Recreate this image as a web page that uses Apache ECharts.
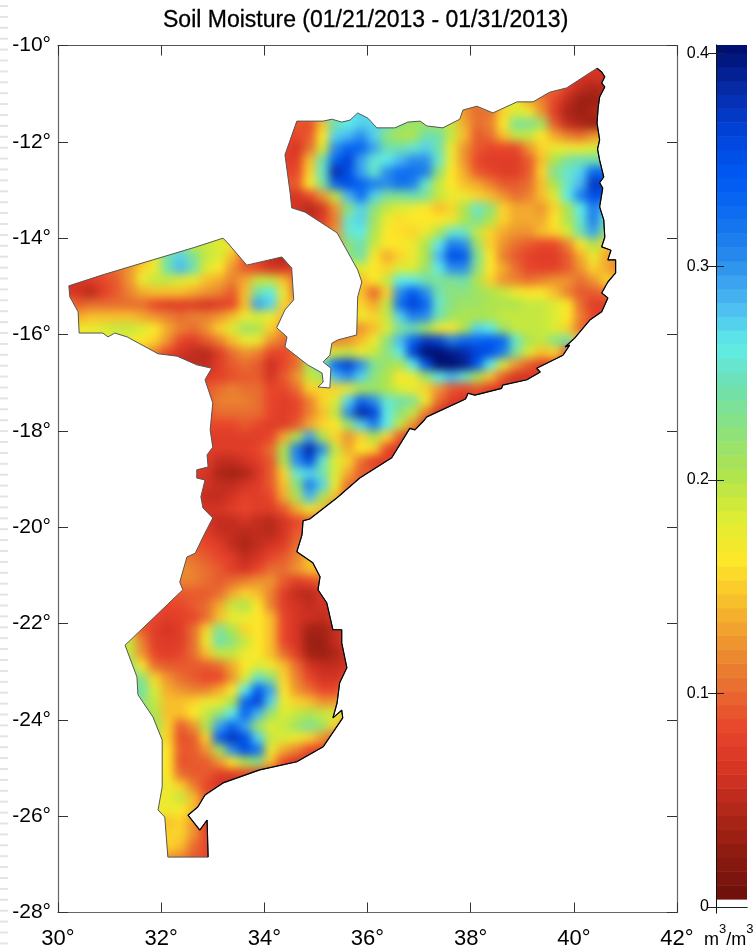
<!DOCTYPE html>
<html><head><meta charset="utf-8">
<style>
html,body{margin:0;padding:0;background:#fff;overflow:hidden}
#field,#frame{position:absolute;left:0;top:0;width:753px;height:950px}
#field{filter:blur(5px)}
</style>
<script src="https://cdn.jsdelivr.net/npm/echarts@6/dist/echarts.min.js"></script>
</head><body>
<div id="field"></div><div id="frame"></div>
<script>
const _ = null;
const chartTitle = 'Soil Moisture (01/21/2013 - 01/31/2013)';
const lonTicks = [30,32,34,36,38,40,42];
const latTicks = [-28,-26,-24,-22,-20,-18,-16,-14,-12,-10];
const colorbarTicks = [0,0.1,0.2,0.3,0.4];
const cellDegrees = 0.25;
// colour ramp, one stop per 0.02 m3/m3 from 0 to 0.40
const moistureColors = ['#6c0f0b','#8a1a10','#ad2617','#d53424','#e8452b','#e86e30','#ee9430','#f8bf2c','#fde829','#dcec34','#aee44e','#8de27c','#70e0ae','#5fece8','#4ab8f2','#2a8cec','#0e6ef0','#0058f2','#0042d8','#062aa6','#001070'];

// soil moisture in 0.01 m3/m3, one row per 0.25 deg of latitude going south from -10.375
const startNorth = [40,39,38,36,21,17,17,17,17,17,17,17,18,18,20];
const moistureNorth = [
[5,6,6],
[7,6,6,6],
[10,7,5,4,5],
[13,11,8,5,3,3,4],
[26,26,27,26,24,23,22,22,20,17,12,10,10,15,18,17,12,7,4,3,4,5],
[8,9,8,14,24,26,27,27,25,22,21,21,21,19,13,10,11,16,23,23,21,9,5,4,3,3],
[8,8,9,16,27,28,30,27,22,20,20,24,24,19,14,9,10,14,19,19,16,13,11,10,12,13],
[8,6,10,18,30,33,33,29,24,24,25,27,24,17,12,9,8,8,8,12,15,17,17,17,18,19],
[7,7,14,24,33,36,29,25,26,28,30,30,25,17,12,8,7,7,7,9,14,20,23,24,24,24],
[8,8,15,25,38,35,29,25,30,32,32,31,22,16,13,9,8,7,7,9,15,23,25,27,33,32],
[9,9,16,23,33,35,33,31,30,32,31,25,19,16,14,13,11,9,9,10,14,20,25,28,37,36],
[7,6,8,12,19,28,32,27,23,23,24,23,19,17,17,15,14,12,10,11,14,18,26,31,35,34],
[6,4.5,6,12,22,27,22,19,18,17,16,14,15,20,25,22,15,13,13,12,15,20,26,31,28],
[6,5,7,11,25,27,21,17,15.5,16,16,16,17,20,23,20,15,13,13,13,16,20,25,31,25],
[9,12,25,26,20,16,15.5,15,17,20,25,25,19,15,13,12,12,14,15,18,24,29,22]
];
const startTete = [8,5,1,0,0,1,1,1,4,6,8,10,10,11,11,11];
const moistureTete = [
[20,22,19,19,18,17,11,_,_,_,_,_,_,12,22,24,19,16,16,17,20,26,31,30,21,15,12,10,9,8,8,11,16,20,15,12],
[10,13,17,24,27,23,19,18,14,9,7,5,4,4,_,_,_,22,24,16,13,15,17,20,28,35,34,23,16,11,9,7.5,7,7,9,13,17,13,11],
[7,7,9,10,12,15,17,24,28,24,18,16,12,9,8,6,6,8,_,_,_,18,18,16,15,18,18,21,26,30,30,22,16,13,10,8,7.5,7.5,9,12,15,13,11],
[7,6,7,8,9,12,17,19,19,18,17,14,13,11,13,19,19,14,10,_,_,_,14,14,16,19,26,26,24,23,23,24,20,15,12,11,10,11,12,12,10,12,15,14],
[6,6,4.5,7,9,11,13,14,14,14,13,12,11,9,14,24,26,17,10,_,_,_,15,14,9.5,15,30,34,30,24,22,22,21,20,19,17,16,16,14,11,9,9,10],
[9,10,10,10,10,10,8,7,7,7,6,7,8,14,29,27,15,13,_,_,_,15,15,13,19,32,36,33,25,22,21,21,20,20,20,19,19,18,16,10,7,7],
[13,14,14,14,14,13,12,11,10,11,11,12,14,17,18,17,14,11,_,_,_,15,17,15,19,27,31,30,24,21,20,20,20,19,19,19,19,18,16,11,8,7],
[17,17,18,19,19,18,16,13,11,10,12,15,18,21,20,15,12,10,_,_,_,11,12,14,18,23,24,21,17,16,20,27,26,21,19,19,19,18,15,10,8],
[17,17,16,15,12,8,7,9,11,14,17,17,12,10,9,_,12,11,12,14,17,22,28,33,37,36,31,33,33,34,33,25,20,19,22,24,15],
[13,11,8,6,5,4.5,7,10,12,11,8,8,10,16,17,18,19,17,19,22,26,36,40,40,39,38,36,35,31,23,18,14,15,9],
[6,5,5,5,7,9,10,9,5.5,8,10,20,25,33,36,30,23,21,20,26,34,40,40,39,34,26,18,12,9,7],
[7,7,7.5,8.5,9,9,6,9,12,19,20,28,30,27,22,20,16,17,21,26,28,25,20,14,9,6,6],
[9,9,10,11,10,10,8,8,10,15,15,15,17,20,21,20,18,17,15,12,9,8,9,7,6,6],
[9,11,11,11,10,8,7,8,11,15,18,27,33,30,25,24,23,17,10,7,6,6],
[9,10,10,10,10,8,7,8,11,14,19,30,38,36,26,22,19,11,6,5],
[8,8,8,9,8,7,7,9,13,15,16,21,27,31,26,19,12,6,5]
];
const startSofala = [11,11,11,10,10,10,11,11,10,9,8,8,8,7,6,5];
const moistureSofala = [
[7,7,7,7,7,8,13,20,29,20,15,12,15,20,15,9,6],
[7,7,7,7,8,10,20,31,38,30,19,13,16,15,8,6],
[7,5,5,6,7,9,20,30,35,25,18,15,10,7],
[7,6,4,3.5,4,6,9,15,25,27,24,18,13,9],
[6,6,5,5,6,7,9,14,22,31,27,17,10],
[7,5,5,6,7.5,7,8,13,20,28,20,14,9],
[6,6,7,8,7,7,9,13,17,14,10],
[6,5,5,6,5,4.5,6,8,9],
[7,7,5.5,5,4.5,5,4.5,6,9,10],
[10,9,8,7,5,4,5,6,7,10,11],
[11,11,10,9,8,7,5,6,8,9,11,14],
[11,12,11,10,9,7,6,8,10,10,12,14,14],
[11,11,11,10,9,10,11,12,12,9,7,8,9],
[9,9,9,9,9,10,13,15,14,11,7,5,4.5,6],
[8,8,8,8,9,10,13,19,20,16,11,7,6,5,6],
[10,9,8,7,7.5,8,10,14,17,17,16,14,8,6,5.5,5]
];
const startGaza = [5,4,4,5,5,6,6,7,7,7,7,7,7,7,7,7,8,8,8,8];
const moistureGaza = [
[14,9,7,6,7,10,15,23,20,15,16,14,8,6,3.5,3.5,5,7],
[19,19,11,7,7,7,10,17,24,22,19,16,14,8,6,3,3,5,7],
[21,19,12,8,7,8,10,14,19,19,17,16,14,10,7,3.5,3,4,6],
[22,16,10,9,9,9,9,10,13,16,18,17,14,10,6,5,5,6],
[23,22,15,12,10,9,8,8,12,18,25,22,15,11,8,6,6],
[24,18,13,12,11,11,13,16,26,34,29,16,12,10,8,8],
[22,19,14,14,15,17,17,20,33,36,27,17,15,14,12,12],
[20,14,14,16,19,22,26,33,28,21,18,19,20,19,18],
[21,15,9,12,20,29,33,29,21,18,19,21,23,21,15],
[19,15,8.5,9,15,34,37,35,27,19,18,17,15,12,9],
[18,16,9,9,12,20,30,35,32,17,13,11,8,7],
[18,16,8.5,9,9,12,16,20,22,14,8,6],
[18,16,10,9,9,7,7,8,7,6],
[18,17,15,11,8,6,5],
[17,17,19,14,9],
[17,17,16,14,9],
[14,15,12,7],
[15,15,12,8],
[15,14,10,8],
[12,11,9,8]
];
// country outline, clockwise from the north-west corner of Niassa, [lon, lat]
const outlineNorth = [[34.63,-11.57],[35.14,-11.57],[35.31,-11.53],[35.50,-11.59],[35.66,-11.55],[35.81,-11.40],[36.01,-11.51],[36.18,-11.71],[36.53,-11.71],[36.78,-11.59],[37.02,-11.57],[37.15,-11.67],[37.46,-11.71],[37.79,-11.53],[37.85,-11.34],[38.12,-11.26],[38.43,-11.40],[38.90,-11.17],[39.21,-11.17],[39.53,-10.97],[39.86,-10.88],[40.45,-10.47]];
const outlineEastCoast = [[40.45,-10.47],[40.54,-10.55],[40.60,-10.65],[40.54,-10.78],[40.60,-10.86],[40.50,-11.07],[40.47,-11.30],[40.45,-11.61],[40.50,-11.96],[40.46,-12.15],[40.50,-12.38],[40.58,-12.73],[40.50,-12.85],[40.56,-12.96],[40.50,-13.35],[40.58,-13.62],[40.60,-13.98],[40.54,-14.18],[40.72,-14.25],[40.66,-14.45],[40.81,-14.45],[40.81,-14.72],[40.66,-14.91],[40.54,-15.14],[40.66,-15.24],[40.54,-15.53],[40.31,-15.70],[40.02,-16.07],[39.83,-16.26],[39.92,-16.22],[39.79,-16.43],[39.28,-16.70],[39.35,-16.78],[39.09,-16.94],[38.62,-17.05],[38.60,-17.12],[38.08,-17.26],[37.95,-17.22],[37.90,-17.34],[37.15,-17.71],[37.10,-17.78],[36.92,-17.98],[36.82,-17.95],[36.47,-18.56],[35.85,-18.98],[35.41,-19.39],[34.88,-19.83],[34.75,-19.87],[34.73,-20.16],[34.63,-20.51],[34.94,-20.74],[35.08,-21.03],[35.04,-21.30],[35.21,-21.57],[35.33,-22.13],[35.50,-22.13],[35.50,-22.40],[35.60,-22.92],[35.46,-23.23],[35.41,-23.65],[35.33,-23.96],[35.50,-23.80],[35.52,-23.96],[35.14,-24.56],[34.63,-24.87],[33.91,-25.04],[33.20,-25.31],[32.85,-25.56],[32.71,-25.81],[32.52,-25.98],[32.75,-26.29],[32.89,-26.08],[32.91,-26.85]];
const outlineWest = [[32.13,-26.85],[32.07,-26.02],[31.94,-25.87],[32.02,-25.39],[32.02,-24.42],[31.84,-23.94],[31.55,-23.48],[31.53,-23.11],[31.30,-22.45],[32.42,-21.30],[32.36,-21.14],[32.50,-20.62],[32.66,-20.54],[32.85,-20.12],[33.00,-19.81],[32.81,-19.60],[32.77,-19.37],[32.85,-19.02],[32.69,-18.98],[32.69,-18.81],[32.91,-18.75],[32.89,-18.50],[33.00,-18.34],[32.95,-17.98],[33.00,-17.42],[32.85,-16.94],[32.98,-16.70],[32.69,-16.63],[32.31,-16.45],[31.94,-16.40],[31.34,-16.05],[31.10,-15.97],[30.97,-16.05],[30.87,-15.97],[30.41,-15.97],[30.39,-15.53],[30.23,-15.22],[30.21,-14.99]];
const outlineTeteNorth = [[30.87,-14.76],[31.84,-14.45],[32.62,-14.20],[33.20,-14.00],[33.29,-14.10],[33.66,-14.56],[34.34,-14.39],[34.53,-14.62],[34.57,-15.28],[34.40,-15.49],[34.24,-15.86],[34.44,-16.05],[34.40,-16.26],[34.84,-16.63],[35.12,-16.80],[35.14,-16.99],[35.04,-17.09],[35.27,-17.11],[35.29,-16.70],[35.14,-16.57],[35.27,-16.43],[35.31,-16.18],[35.43,-16.11],[35.79,-16.01],[35.81,-15.22],[35.89,-14.91],[35.81,-14.66],[35.41,-13.89],[34.79,-13.46],[34.53,-13.37],[34.50,-13.06],[34.40,-12.27]];
const outline = outlineNorth.concat(outlineEastCoast.slice(1), outlineWest, outlineTeteNorth);

const rowStarts = startNorth.concat(startTete, startSofala, startGaza);
const rows = moistureNorth.concat(moistureTete, moistureSofala, moistureGaza);
const cells = [];
rows.forEach((row, r) => row.forEach((v, i) => {
  if (v === null) return;
  cells.push([30 + (rowStarts[r] + i + 0.5) * cellDegrees, -10 - (r + 1.5) * cellDegrees, v / 100]);
}));

const plotGrid = {left: 58, top: 45.5, width: 619, height: 867};
const colorMap = {type: 'continuous', show: false, min: 0, max: 0.4, dimension: 2, inRange: {color: moistureColors}};

function cellRender(scale) {
  return function (params, api) {
    const half = cellDegrees / 2 * scale;
    const a = api.coord([api.value(0) - half, api.value(1) + half]);
    const b = api.coord([api.value(0) + half, api.value(1) - half]);
    return {type: 'rect', shape: {x: a[0], y: a[1], width: b[0] - a[0] + 0.6, height: b[1] - a[1] + 0.6},
      style: {fill: api.visual('color')}};
  };
}
const field = echarts.init(document.getElementById('field'), null, {renderer: 'canvas'});
field.setOption({
  animation: false, backgroundColor: '#fff',
  grid: plotGrid,
  xAxis: {type: 'value', min: 30, max: 42, show: false},
  yAxis: {type: 'value', min: -28, max: -10, show: false},
  visualMap: colorMap,
  series: [
    {type: 'custom', name: 'edge', data: cells, z: 1, clip: true, renderItem: cellRender(3), encode: {x: 0, y: 1}, silent: true},
    {type: 'custom', name: 'Soil moisture', data: cells, z: 2, clip: true, renderItem: cellRender(1), encode: {x: 0, y: 1}, silent: true}
  ]
});

// colour bar bands
const barTop = 0.4038, barFloor = 0.0036, barBand = 0.0065, barLevels = [];
for (let v = barFloor; v < barTop; v += barBand) barLevels.push([0, v, Math.min(v + barBand, barTop)]);

const axisCommon = {type: 'value', splitLine: {show: false}, z: 5};
const tickStyle = {inside: true, length: 10, lineStyle: {color: '#333', width: 1}};
const labelFont = 'Liberation Sans';
const dashes = [];
for (let y = 5; y < 950; y += 10.9) dashes.push({type: 'rect', shape: {x: 0, y: y, width: 8, height: 2}, style: {fill: '#e4e4e4'}, silent: true});

const frame = echarts.init(document.getElementById('frame'), null, {renderer: 'canvas'});
frame.setOption({
  animation: false,
  title: {text: chartTitle, left: 158, top: 4, textStyle: {fontFamily: labelFont, fontSize: 23, fontWeight: 'normal', color: '#000', textBorderColor: '#000', textBorderWidth: 0.3}},
  grid: [plotGrid, {left: 716, top: 45, width: 31, height: 868}],
  xAxis: [
    Object.assign({}, axisCommon, {gridIndex: 0, position: 'bottom', min: 30, max: 42, interval: 2, axisLine: {show: true, lineStyle: {color: '#666', width: 1.2}}, axisTick: tickStyle,
      axisLabel: {margin: 15, fontFamily: labelFont, fontSize: 22, color: '#000', formatter: v => v + '°', customValues: lonTicks}}),
    Object.assign({}, axisCommon, {gridIndex: 0, position: 'top', min: 30, max: 42, interval: 2, axisLine: {show: true, lineStyle: {color: '#555', width: 1.2}}, axisTick: tickStyle, axisLabel: {show: false}}),
    Object.assign({}, axisCommon, {gridIndex: 1, position: 'bottom', min: 0, max: 1, axisLine: {show: true, lineStyle: {color: '#222'}}, axisTick: {show: false}, axisLabel: {show: false}}),
    Object.assign({}, axisCommon, {gridIndex: 1, position: 'top', min: 0, max: 1, axisLine: {show: true, lineStyle: {color: '#222'}}, axisTick: {show: false}, axisLabel: {show: false}})
  ],
  yAxis: [
    Object.assign({}, axisCommon, {gridIndex: 0, position: 'left', min: -28, max: -10, interval: 2, axisLine: {show: true, lineStyle: {color: '#666', width: 1.2}}, axisTick: tickStyle,
      axisLabel: {margin: 7, padding: [5, 0, 0, 0], fontFamily: labelFont, fontSize: 21, color: '#000', formatter: v => v + '°', customValues: latTicks}}),
    Object.assign({}, axisCommon, {gridIndex: 0, position: 'right', min: -28, max: -10, interval: 2, axisLine: {show: true, lineStyle: {color: '#666', width: 1.2}}, axisTick: tickStyle, axisLabel: {show: false}}),
    Object.assign({}, axisCommon, {gridIndex: 1, position: 'left', min: -0.0029, max: barTop, axisLine: {show: true, lineStyle: {color: '#666'}},
      axisTick: {inside: true, length: 8, customValues: colorbarTicks, lineStyle: {color: '#222'}},
      axisLabel: {margin: 7, fontFamily: labelFont, fontSize: 16, color: '#000', customValues: colorbarTicks, formatter: v => String(v)}}),
    Object.assign({}, axisCommon, {gridIndex: 1, position: 'right', min: -0.0029, max: barTop, axisLine: {show: true, lineStyle: {color: '#111'}},
      axisTick: {inside: true, length: 8, customValues: colorbarTicks, lineStyle: {color: '#222'}}, axisLabel: {show: false}})
  ],
  visualMap: {type: 'continuous', show: false, min: 0, max: 0.4, dimension: 1, seriesIndex: 3, inRange: {color: moistureColors}},
  series: [
    {type: 'custom', name: 'outside', xAxisIndex: 0, yAxisIndex: 0, z: 2, silent: true, clip: false, data: [[30, -10]], encode: {x: 0, y: 1},
      renderItem: function (params, api) {
        const corners = [[29.2, -9], [42.5, -9], [42.5, -28.6], [29.2, -28.6], [29.2, -9]];
        const inner = [outline[0]].concat(outline.slice().reverse());
        const pts = corners.concat(inner, [[29.2, -9]]).map(p => api.coord(p));
        return {type: 'polygon', shape: {points: pts}, style: {fill: '#fff'}};
      }},
    {type: 'line', name: 'border', xAxisIndex: 0, yAxisIndex: 0, z: 3, silent: true, symbol: 'none', data: outline.concat([outline[0]]), lineStyle: {color: '#555', width: 1}},
    {type: 'line', name: 'coast', xAxisIndex: 0, yAxisIndex: 0, z: 3, silent: true, symbol: 'none', data: outlineEastCoast, lineStyle: {color: '#000', width: 1.2}},
    {type: 'custom', name: 'colorbar', xAxisIndex: 2, yAxisIndex: 2, z: 2, silent: true, data: barLevels, encode: {x: 0, y: [1, 2]},
      renderItem: function (params, api) {
        const a = api.coord([0, api.value(2)]), b = api.coord([1, api.value(1)]);
        return {type: 'rect', shape: {x: a[0], y: a[1], width: b[0] - a[0], height: b[1] - a[1] + 0.5}, style: {fill: api.visual('color')}};
      }}
  ],
  graphic: dashes.concat([{type: 'text', left: 704, top: 923, silent: true, style: {text: '{m|m}{s|3}{m|/m}{s|3}', rich: {m: {fontFamily: labelFont, fontSize: 18, fill: '#000', padding: [8, 0, 0, 0]}, s: {fontFamily: labelFont, fontSize: 13, fill: '#000', padding: [0, 0, 6, 0], verticalAlign: 'top'}}}}])
});
</script>
</body></html>
